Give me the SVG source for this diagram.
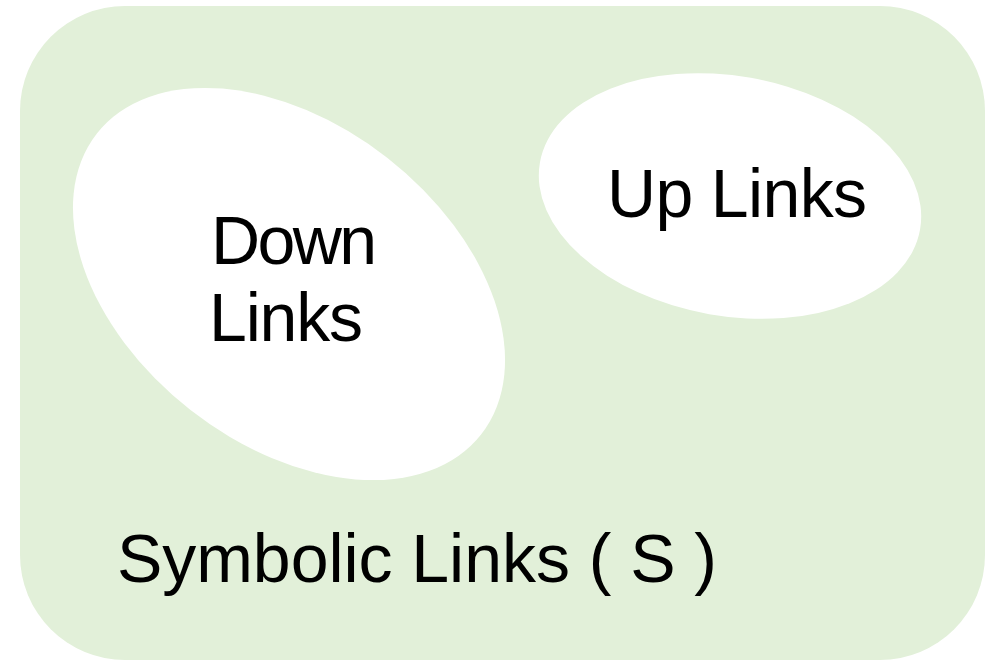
<svg xmlns="http://www.w3.org/2000/svg" width="997" height="660" viewBox="0 0 997 660">
  <style>
    .set { fill: #e2f0d9; }
    .subset { fill: #ffffff; }
    .label { font-family: "Liberation Sans", Arial, sans-serif; font-size: 68px; fill: #000000; }
  </style>

  <!-- Universe: all symbolic links -->
  <g id="symbolic-links">
    <rect class="set" x="20" y="6" width="965" height="654" rx="105" ry="105"/>
    <text class="label" x="117" y="582" textLength="600" lengthAdjust="spacing">Symbolic Links ( S )</text>
  </g>

  <!-- Subset: links pointing down the tree -->
  <g id="down-links">
    <ellipse class="subset" cx="0" cy="0" rx="244" ry="160" transform="translate(289 284) rotate(38)"/>
    <text class="label" x="211" y="264" textLength="166" lengthAdjust="spacing">Down</text>
    <text class="label" x="209" y="341" textLength="154" lengthAdjust="spacing">Links</text>
  </g>

  <!-- Subset: links pointing up the tree -->
  <g id="up-links">
    <ellipse class="subset" cx="0" cy="0" rx="193" ry="120" transform="translate(730 196) rotate(10)"/>
    <text class="label" x="607" y="217" textLength="260" lengthAdjust="spacing">Up Links</text>
  </g>

  <g id="connectors"/>
</svg>
